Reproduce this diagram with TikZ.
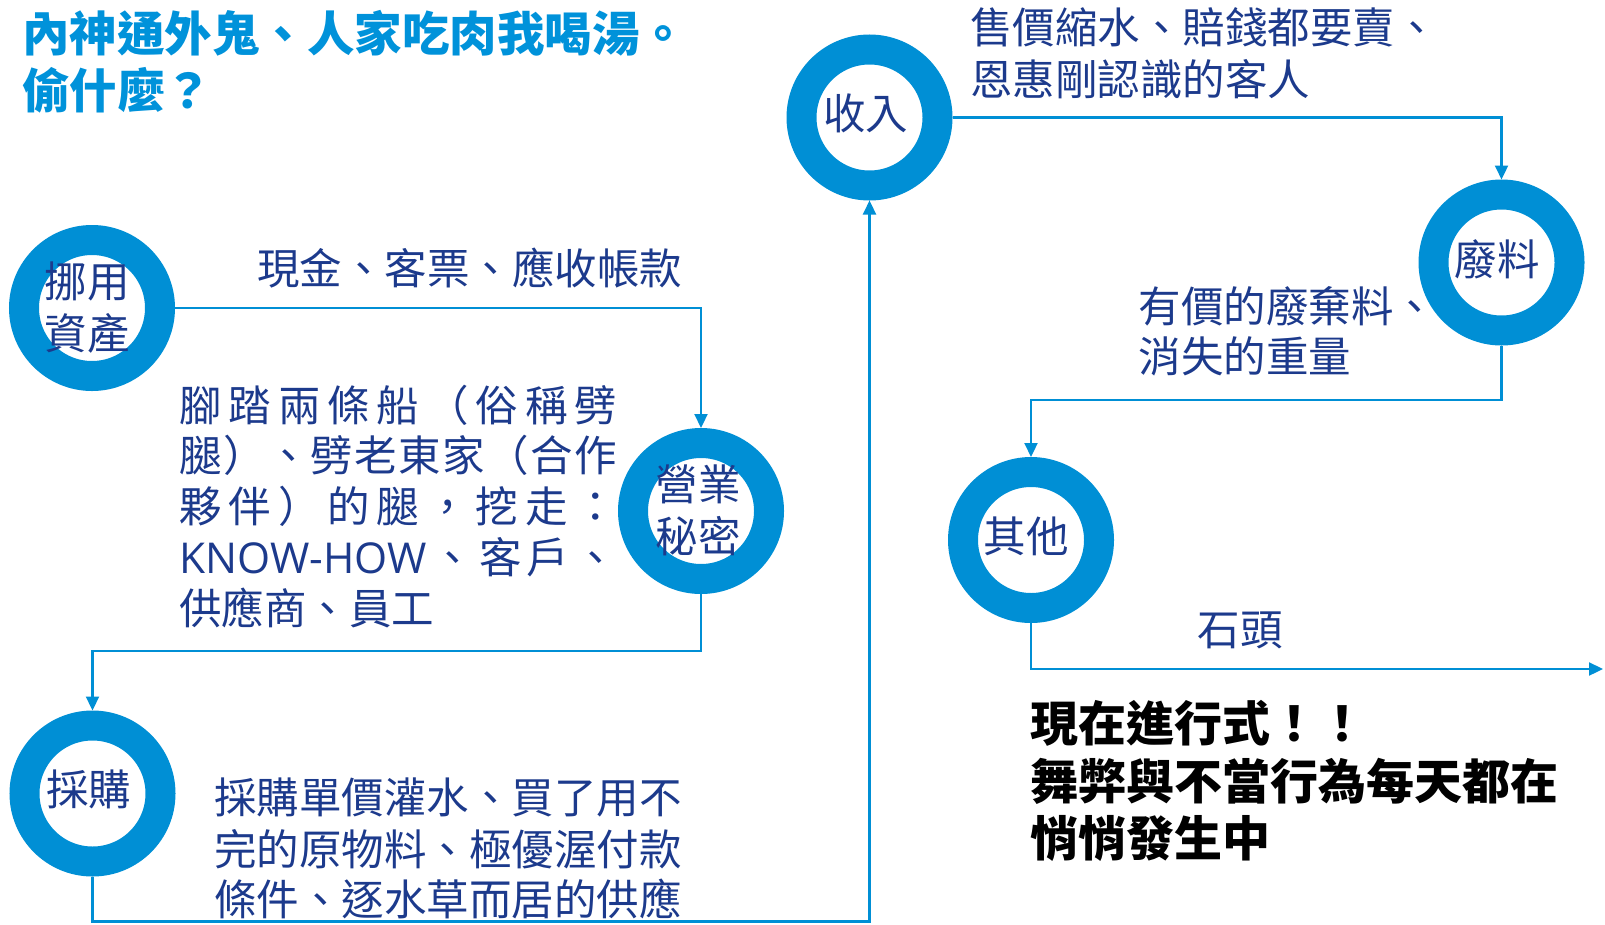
\documentclass[tikz,border=0pt]{standalone}
\usepackage{fontspec}
\setmainfont{Noto Sans CJK TC}
\newfontfamily\latinf{Open Sans}
\usetikzlibrary{arrows.meta,calc}
\definecolor{ringblue}{RGB}{0,143,213}
\definecolor{titleblue}{RGB}{0,146,218}
\definecolor{navy}{RGB}{28,58,140}
\newcommand\jline[1]{\makebox[438pt][s]{#1}}
\tikzset{
 ring/.style={circle,draw=ringblue,line width=30pt,minimum size=136pt,inner sep=0pt},
 conn/.style={draw=ringblue,line width=2.2pt,-{Triangle[width=13pt,length=14pt]}},
 txt/.style={anchor=base west,inner sep=0pt,text=navy,font=\fontsize{42.5}{51}\selectfont},
 rlab/.style={inner sep=0pt,text=navy,font=\fontsize{42.5}{52}\selectfont,align=center},
 ttl/.style={anchor=base west,inner sep=0pt,text=titleblue,font=\fontsize{47.5}{57}\selectfont\bfseries},
 hot/.style={anchor=base west,inner sep=0pt,text=black,font=\fontsize{48}{57}\selectfont\bfseries},
}
\begin{document}
\begin{tikzpicture}[x=1pt,y=-1pt]
\useasboundingbox (0,0) rectangle (1605,924);
% rings
\node[ring] (r1) at (92,308) {};
\node[ring] (r2) at (701,511) {};
\node[ring] (r3) at (92.5,793.5) {};
\node[ring] (r4) at (869.5,117.5) {};
\node[ring] (r5) at (1501.5,262.5) {};
\node[ring] (r6) at (1031,540) {};
% ring labels
\node[rlab] (l1) at (87,307.5) {挪用\\資產};
\node[rlab] (l2) at (698,510.5) {營業\\秘密};
\node[rlab] (l3) at (88.5,789) {採購};
\node[rlab] (l4) at (865.5,113.5) {收入};
\node[rlab] (l5) at (1497,259.5) {廢料};
\node[rlab] (l6) at (1026,536) {其他};
% connectors
\draw[conn] (r1.east) -| (r2.north);
\draw[conn] (r2.south) -- ++(0,57) -| (r3.north);
\draw[conn] (r3.south) -- ++(0,45) -| (r4.south);
\draw[conn] (r4.east) -| (r5.north);
\draw[conn] (r5.south) -- ++(0,54.5) -| (r6.north);
\coordinate (out) at (1603,669);
\draw[conn] (r6.south) |- (out);
% title
\node[ttl] (t1) at (22,51.7) {內神通外鬼、人家吃肉我喝湯。};
\node[ttl] (t2) at (22,108.4) {偷什麼？};
% edge labels
\node[txt] (a1) at (257,284) {現金、客票、應收帳款};
\node[txt] (b1) at (970,43.7) {售價縮水、賠錢都要賣、};
\node[txt] (b2) at (970,95.3) {恩惠剛認識的客人};
\node[txt] (c1) at (1138.5,322) {有價的廢棄料、};
\node[txt] (c2) at (1138.5,372) {消失的重量};
\node[txt] (d1) at (1197.5,645.3) {石頭};
% left justified text
\node[txt] (s1) at (179,421) {\jline{腳\hfill 踏\hfill 兩\hfill 條\hfill 船\hfill （\hfill 俗\hfill 稱\hfill 劈}};
\node[txt] (s2) at (179,471.8) {\jline{腿\hfill ）\hfill 、\hfill 劈\hfill 老\hfill 東\hfill 家\hfill （\hfill 合\hfill 作}};
\node[txt] (s3) at (179,522.6) {\jline{夥\hfill 伴\hfill ）\hfill 的\hfill 腿\hfill ，\hfill 挖\hfill 走\hfill ：}};
\node[txt] (s4) at (179,573.4) {\jline{{\latinf KNOW-HOW}\hfill 、\hfill 客\hfill 戶\hfill 、}};
\node[txt] (s5) at (179,624.2) {供應商、員工};
% bottom-left text
\node[txt] (p1) at (214,813.7) {採購單價灌水、買了用不};
\node[txt] (p2) at (214,865.3) {完的原物料、極優渥付款};
\node[txt] (p3) at (214,915.3) {條件、逐水草而居的供應};
% bottom-right bold text
\node[hot] (h1) at (1030.5,741.6) {現在進行式！！};
\node[hot] (h2) at (1030.5,799.6) {舞弊與不當行為每天都在};
\node[hot] (h3) at (1030.5,856.6) {悄悄發生中};
\end{tikzpicture}
\end{document}
